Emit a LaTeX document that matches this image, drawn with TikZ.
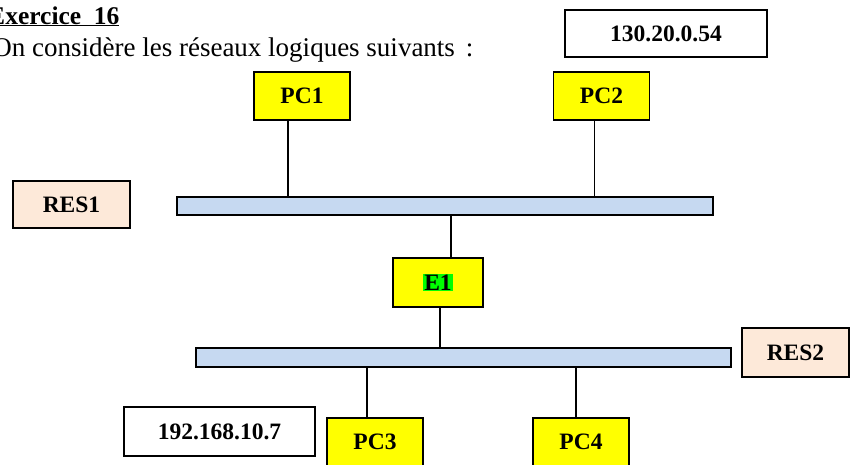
\documentclass[tikz,border=0pt]{standalone}
\usepackage{fontspec}
\setmainfont{Liberation Serif}
\usetikzlibrary{calc}

\definecolor{pcyellow}{HTML}{FFFF00}
\definecolor{respeach}{HTML}{FDE9D9}
\definecolor{barblue}{HTML}{C6D9F1}
\definecolor{hlgreen}{HTML}{00FF00}

\begin{document}
\begin{tikzpicture}[x = 1pt, y = -1pt,
  box/.style = {draw, line width = 1.9pt, inner sep = 0pt, font = \fontsize{23.5}{27}\selectfont\bfseries},
  pc/.style = {box, fill = pcyellow, minimum width = 96pt, minimum height = 48pt},
  res/.style = {box, fill = respeach},
  addr/.style = {box, fill = white},
  bus/.style = {draw, line width = 1.9pt, fill = barblue, inner sep = 0pt},
  link/.style = {line width = 1.4pt}]
  \useasboundingbox (0, 0) rectangle (850, 464);
  \clip (0, 0) rectangle (850, 464);

  \node[anchor = base east, font = \fontsize{25.5}{29}\selectfont\bfseries]
    (title) at (123, 24) {\underline{Exercice\ \ 16}};
  \node[anchor = base east, font = \fontsize{27}{31}\selectfont]
    (intro) at (477, 56) {On considère les réseaux logiques suivants\hspace{11pt}:};

  \node[addr, minimum width = 202pt, minimum height = 47pt] (ip1) at (666, 33.5) {130.20.0.54};
  \node[addr, minimum width = 191pt, minimum height = 49pt] (ip2) at (219.5, 431.5) {192.168.10.7};

  \node[pc] (pc1) at (302, 96) {PC1};
  \node[pc] (pc2) at (601.5, 96) {PC2};
  \node[pc] (pc3) at (375, 442) {PC3};
  \node[pc] (pc4) at (581, 442) {PC4};

  \node[res, minimum width = 117pt, minimum height = 47pt] (res1) at (71.5, 204.5) {RES1};
  \node[res, minimum width = 107pt, minimum height = 49pt] (res2) at (795.5, 352.5) {RES2};

  \node[bus, minimum width = 536pt, minimum height = 18pt] (bar1) at (445, 206) {};
  \node[bus, minimum width = 535pt, minimum height = 19pt] (bar2) at (463.5, 357.5) {};

  \node[box, fill = pcyellow, minimum width = 90pt, minimum height = 49pt]
    (e1) at (438, 282.5) {\setlength{\fboxsep}{1pt}\colorbox{hlgreen}{E1}};

  % liaisons
  \draw[link] ([xshift = -14pt]pc1.south) -- ([xshift = -14pt]pc1.south |- bar1.north);
  \draw[link] ([xshift = -7pt]pc2.south) -- ([xshift = -7pt]pc2.south |- bar1.north);
  \draw[link] ([xshift = 13pt]e1.north) -- ([xshift = 13pt]e1.north |- bar1.south);
  \draw[link] ([xshift = 2pt]e1.south) -- ([xshift = 2pt]e1.south |- bar2.north);
  \draw[link] ([xshift = -8pt]pc3.north) -- ([xshift = -8pt]pc3.north |- bar2.south);
  \draw[link] ([xshift = -5pt]pc4.north) -- ([xshift = -5pt]pc4.north |- bar2.south);
\end{tikzpicture}
\end{document}
